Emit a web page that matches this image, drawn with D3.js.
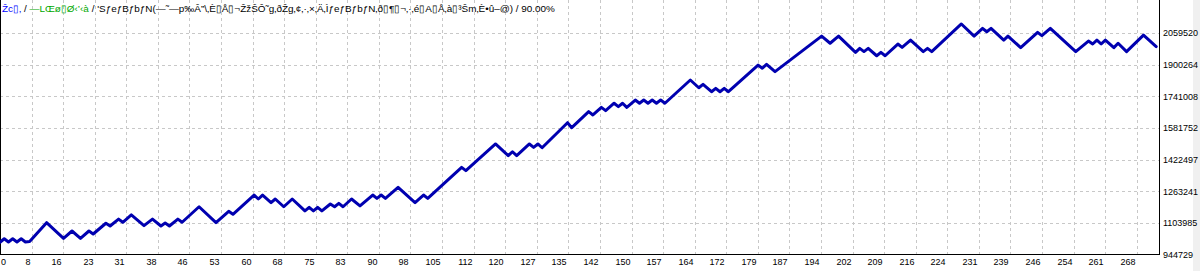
<!DOCTYPE html>
<html><head><meta charset="utf-8">
<script src="https://cdn.jsdelivr.net/npm/d3@7"></script>
<style>html,body{margin:0;padding:0;background:#fff;overflow:hidden}</style>
</head><body><svg id="c" width="1200" height="271"></svg>
<script>
// ---- data ----
const titleTexts = ["Žc▯‚", " / ", "—LŒø▯Ø‹’‹à", " / 'SƒeƒBƒbƒN(—˜—p‰Â”\\‚È▯Å▯¬ŽžŠÔ˜g‚ðŽg‚¢‚·‚×‚Ä‚ÌƒeƒBƒbƒN‚ð▯¶▯¬‚·‚é▯A▯Å‚à▯³Šm‚È•û–@) / 90.00%"];
const trades = [0,1,2,3,4,5,6,7,11,15,17,19,21,22,25,26,28,29,31,34,36,38,39,40,42,43,47,51,54,55,60,61,62,64,65,67,69,72,73,74,75,76,78,79,80,81,83,85,88,89,90,91,94,98,100,101,109,110,117,120,121,122,125,126,127,128,134,135,139,140,142,143,145,146,147,148,150,151,152,153,154,155,156,157,163,165,166,168,169,170,171,172,179,180,181,183,194,196,198,202,203,204,205,207,208,209,212,213,215,218,219,220,227,230,232,233,234,237,238,241,245,246,248,254,257,258,259,260,261,263,264,266,270,273];
const balance = [1006000,1024000,1008000,1024000,1008000,1024000,1008000,1010000,1105000,1026000,1063000,1026000,1063000,1048000,1102000,1088000,1123000,1107000,1144000,1090000,1123000,1088000,1103000,1088000,1123000,1107000,1185000,1105000,1162000,1147000,1244000,1224000,1244000,1206000,1224000,1185000,1224000,1164000,1182000,1164000,1182000,1164000,1199000,1185000,1202000,1185000,1224000,1189000,1244000,1227000,1244000,1227000,1283000,1206000,1244000,1227000,1383000,1367000,1501000,1442000,1462000,1442000,1501000,1484000,1501000,1482000,1608000,1583000,1664000,1647000,1685000,1669000,1706000,1689000,1706000,1685000,1722000,1706000,1722000,1706000,1722000,1706000,1722000,1706000,1823000,1784000,1801000,1764000,1781000,1764000,1781000,1764000,1898000,1882000,1902000,1865000,2044000,2008000,2044000,1962000,1982000,1966000,1982000,1945000,1962000,1945000,2004000,1987000,2024000,1966000,1982000,1966000,2105000,2044000,2083000,2066000,2083000,2024000,2044000,1986000,2063000,2046000,2083000,1966000,2019000,2004000,2024000,2004000,2024000,1986000,2008000,1966000,2049000,1991000];
const xTickLabels = ["0","8","16","23","31","38","46","53","60","68","75","83","90","98","105","112","120","127","135","142","150","157","164","172","179","187","194","202","209","216","224","231","239","246","254","261","268"];
const yTickValues = [944729,1103985,1263241,1422497,1581752,1741008,1900264,2059520];
const lastTickTrade = 268.4;
const lastTrade = 273;

// ---- layout ----
const svg = d3.select("#c");
const W = 1200, H = 271;
const plotL = 0, plotR = 1159, plotB = 254.5;
const font = "'Liberation Sans', Arial, sans-serif";

svg.append("rect").attr("x",0).attr("y",0).attr("width",W).attr("height",H).attr("fill","#fff");
svg.append("rect").attr("x",1193).attr("y",0).attr("width",7).attr("height",H).attr("fill","#f0f0f0");

const x = d3.scaleLinear().domain([0, lastTrade]).range([0, 1156.2]);
const y = d3.scaleLinear().domain([yTickValues[0], yTickValues[yTickValues.length-1]]).range([plotB, 33]);

const tickPos = xTickLabels.map((d,i)=> x(i*lastTickTrade/(xTickLabels.length-1)));

// grid
const grid = svg.append("g").attr("stroke","#c8c8c8").attr("stroke-width",1).attr("stroke-dasharray","3,3").attr("shape-rendering","crispEdges");
tickPos.forEach((px,i)=>{ if(i>0) grid.append("line").attr("x1",Math.round(px)+0.5).attr("x2",Math.round(px)+0.5).attr("y1",0).attr("y2",plotB); });
yTickValues.forEach((v,i)=>{ if(i>0){ const yy=Math.round(y(v))+0.5; grid.append("line").attr("x1",plotL).attr("x2",plotR).attr("y1",yy).attr("y2",yy);} });

// frame
const fr = svg.append("g").attr("stroke","#000").attr("stroke-width",1).attr("shape-rendering","crispEdges");
fr.append("line").attr("x1",0.5).attr("x2",0.5).attr("y1",0).attr("y2",255);
fr.append("line").attr("x1",0).attr("x2",plotR+0.5).attr("y1",plotB).attr("y2",plotB);
fr.append("line").attr("x1",plotR+0.5).attr("x2",plotR+0.5).attr("y1",0).attr("y2",255);

// y labels
svg.append("g").selectAll("text").data(yTickValues).join("text")
  .attr("x",1163).attr("y",d=>y(d)+3.3)
  .attr("font-family",font).attr("font-size","9px").attr("fill","#000")
  .text(d=>String(d));

// x labels
const xl = svg.append("g");
xTickLabels.forEach((lab,i)=>{
  const px = Math.round(tickPos[i]);
  const t = xl.append("text").attr("y",265).attr("font-family",font).attr("font-size","9px").attr("fill","#000").text(lab);
  if(i===0) t.attr("x",1).attr("text-anchor","start");
  else t.attr("x",px-1.5).attr("text-anchor","end");
});

// line
const pts = trades.map((t,i)=>[t,balance[i]]);
svg.append("path").datum(pts)
  .attr("d", d3.line().x(d=>x(d[0])).y(d=>y(d[1])))
  .attr("fill","none").attr("stroke","#0000b0").attr("stroke-width",3).attr("stroke-linejoin","round").attr("stroke-linecap","round");

// title
const titleColors = ["#0000ff","#000","#00a800","#000"];
let fs = 10;
const title = svg.append("text").attr("x",2).attr("y",12).attr("font-family",font).attr("font-size",fs+"px");
titleTexts.forEach((s,i)=> title.append("tspan").attr("fill",titleColors[i]).text(s));
const len = title.node().getComputedTextLength();
title.attr("font-size",(fs*553/len)+"px");
</script></body></html>
